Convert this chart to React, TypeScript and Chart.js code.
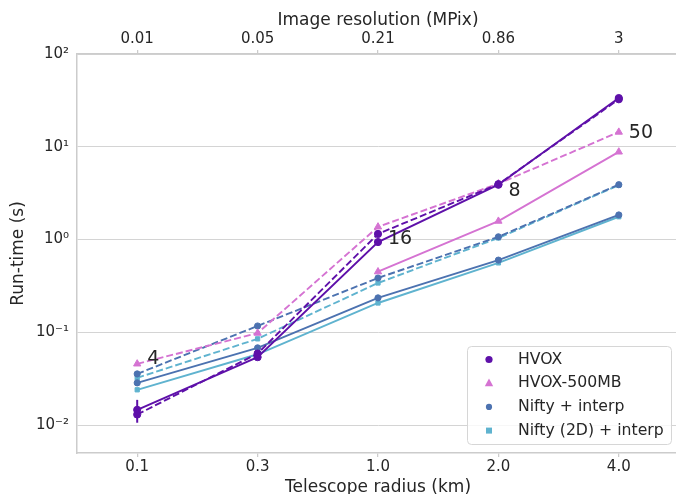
import React, { useEffect, useRef } from 'react';
import { Chart, registerables } from 'chart.js';

Chart.register(...registerables);

const FONT = "'DejaVu Sans', sans-serif";
const TEXT = '#262626';

const radiusLabels = ['0.1', '0.3', '1.0', '2.0', '4.0'];
const resolutionLabels = ['0.01', '0.05', '0.21', '0.86', '3'];
const yTickValues = [0.01, 0.1, 1, 10, 100];
const yTickLabels = ['10⁻²', '10⁻¹', '10⁰', '10¹', '10²'];

const hvoxSolid = [0.0146, 0.054, 0.94, 3.9, 33.5];
const hvoxDashed = [0.013, 0.059, 1.15, 3.95, 32.5];
const hvox500Solid = [null, null, 0.45, 1.58, 8.8];
const hvox500Dashed = [0.0457, 0.098, 1.37, 4.0, 14.4];
const niftySolid = [0.0285, 0.068, 0.235, 0.6, 1.84];
const niftyDashed = [0.0356, 0.117, 0.385, 1.07, 3.9];
const nifty2dSolid = [0.024, 0.058, 0.207, 0.56, 1.76];
const nifty2dDashed = [0.0323, 0.085, 0.34, 1.04, 3.85];

const hvoxErrLow = [0.0106, null, null, null, null];
const hvoxErrHigh = [0.0187, null, null, null, null];

const noteLabels = ['4', '16', '8', '50'];
const noteIndex = [0, 2, 3, 4];
const noteValues = [0.052, 1.0, 3.3, 14.1];

const legendNames = ['HVOX', 'HVOX-500MB', 'Nifty + interp', 'Nifty (2D) + interp'];
const seriesColors = ['#5e10a9', '#d573d2', '#4c72b0', '#5fb3cf'];
const seriesMarkers = ['circle', 'triangle', 'circle', 'rect'];
const markerSizes = [3.6, 4.2, 3.1, 3];

function drawMarker(ctx: CanvasRenderingContext2D, style: string, x: number, y: number, r: number) {
  ctx.beginPath();
  if (style === 'circle') {
    ctx.arc(x, y, r, 0, Math.PI * 2);
  } else if (style === 'triangle') {
    ctx.moveTo(x, y - r * 1.1);
    ctx.lineTo(x + r, y + r * 0.75);
    ctx.lineTo(x - r, y + r * 0.75);
    ctx.closePath();
  } else {
    ctx.rect(x - r, y - r, r * 2, r * 2);
  }
  ctx.fill();
}

const overlayPlugin = {
  id: 'overlay',
  afterDatasetsDraw(chart: any) {
    const { ctx, chartArea } = chart;
    const x = chart.scales.x;
    const y = chart.scales.y;
    ctx.save();
    // error bars
    ctx.strokeStyle = seriesColors[0];
    ctx.lineWidth = 2;
    hvoxErrLow.forEach((lo, i) => {
      const hi = hvoxErrHigh[i];
      if (lo == null || hi == null) return;
      const px = x.getPixelForValue(i);
      ctx.beginPath();
      ctx.moveTo(px, y.getPixelForValue(lo));
      ctx.lineTo(px, y.getPixelForValue(hi));
      ctx.stroke();
    });
    // annotations
    ctx.fillStyle = TEXT;
    ctx.font = `19px ${FONT}`;
    ctx.textAlign = 'left';
    ctx.textBaseline = 'middle';
    noteLabels.forEach((t, k) => {
      ctx.fillText(t, x.getPixelForValue(noteIndex[k]) + 10, y.getPixelForValue(noteValues[k]));
    });
    // legend
    const w = 204;
    const h = 98;
    const bx = chartArea.right - 8 - w;
    const by = chartArea.bottom - 9 - h;
    ctx.beginPath();
    (ctx as any).roundRect(bx + 0.5, by + 0.5, w, h, 4);
    ctx.fillStyle = 'rgba(255,255,255,0.8)';
    ctx.fill();
    ctx.strokeStyle = '#d6d6d6';
    ctx.lineWidth = 1;
    ctx.stroke();
    ctx.font = `15.7px ${FONT}`;
    legendNames.forEach((name, i) => {
      const cy = by + 13.5 + i * 23.7;
      ctx.fillStyle = seriesColors[i];
      drawMarker(ctx, seriesMarkers[i], bx + 22, cy, markerSizes[i]);
      ctx.fillStyle = TEXT;
      ctx.fillText(name, bx + 51, cy);
    });
    ctx.restore();
  },
};

function makeSet(label: string, data: (number | null)[], idx: number, dashed: boolean) {
  return {
    label,
    data,
    borderColor: seriesColors[idx],
    backgroundColor: seriesColors[idx],
    pointBackgroundColor: seriesColors[idx],
    pointBorderColor: seriesColors[idx],
    pointStyle: seriesMarkers[idx],
    pointRadius: markerSizes[idx],
    pointBorderWidth: 1,
    borderWidth: 1.9,
    borderDash: dashed ? [7, 3] : [],
    tension: 0,
    fill: false,
    spanGaps: false,
  };
}

export default function App() {
  const canvasRef = useRef<HTMLCanvasElement | null>(null);

  useEffect(() => {
    document.body.style.margin = '0';
    const canvas = canvasRef.current;
    if (!canvas) return;
    const tickFont = { family: FONT, size: 15 };
    const titleFont = { family: FONT, size: 17, lineHeight: 1 };
    const chart = new Chart(canvas, {
      type: 'line',
      data: {
        labels: radiusLabels,
        datasets: [
          makeSet('HVOX', hvoxSolid, 0, false),
          makeSet('HVOX dashed', hvoxDashed, 0, true),
          makeSet('HVOX-500MB', hvox500Solid, 1, false),
          makeSet('HVOX-500MB dashed', hvox500Dashed, 1, true),
          makeSet('Nifty + interp', niftySolid, 2, false),
          makeSet('Nifty + interp dashed', niftyDashed, 2, true),
          makeSet('Nifty (2D) + interp', nifty2dSolid, 3, false),
          makeSet('Nifty (2D) + interp dashed', nifty2dDashed, 3, true),
        ] as any,
      },
      options: {
        responsive: false,
        animation: false,
        layout: { padding: { left: 0, right: 11, top: 0, bottom: 0 } },
        plugins: {
          legend: { display: false },
          tooltip: { enabled: false },
        },
        scales: {
          x: {
            type: 'category',
            position: 'bottom',
            offset: true,
            grid: { display: true, drawOnChartArea: false, drawTicks: true, tickLength: 4, color: '#cccccc', lineWidth: 1.25 },
            border: { display: true, color: '#cccccc', width: 1.5 },
            ticks: { color: TEXT, font: tickFont, padding: 1, maxRotation: 0, autoSkip: false },
            title: { display: true, text: 'Telescope radius (km)', color: TEXT, font: titleFont, padding: { top: 0, bottom: -2 } },
            afterFit: (s: any) => { s.height = 41; },
          },
          x2: {
            type: 'category',
            position: 'top',
            labels: resolutionLabels,
            offset: true,
            display: true,
            grid: { display: true, drawOnChartArea: false, drawTicks: true, tickLength: 4, color: '#cccccc', lineWidth: 1.25 },
            border: { display: true, color: '#cccccc', width: 1.5 },
            ticks: { color: TEXT, font: tickFont, padding: 2, maxRotation: 0, autoSkip: false },
            title: { display: true, text: 'Image resolution (MPix)', color: TEXT, font: titleFont, padding: { top: 12, bottom: 0 } },
            afterFit: (s: any) => { s.height = 54; },
          },
          y: {
            type: 'logarithmic',
            min: 0.005,
            max: 100,
            grid: { color: '#d4d4d4', lineWidth: 1, drawTicks: false },
            border: { display: true, color: '#cccccc', width: 1.5 },
            ticks: {
              color: TEXT,
              font: tickFont,
              padding: 8,
              callback: (v: any) => {
                const i = yTickValues.findIndex((t) => Math.abs(Math.log10(t) - Math.log10(Number(v))) < 1e-6);
                return i >= 0 ? yTickLabels[i] : '';
              },
            },
            afterBuildTicks: (s: any) => {
              s.ticks = yTickValues.map((v) => ({ value: v }));
            },
            title: { display: true, text: 'Run-time (s)', color: TEXT, font: titleFont, padding: { top: 10.5, bottom: 0 } },
            afterFit: (s: any) => { s.width = 77; },
          },
        },
      } as any,
      plugins: [overlayPlugin],
    });
    return () => chart.destroy();
  }, []);

  return (
    <div style={{ width: 676, height: 494, overflow: 'hidden', position: 'relative' }}>
      <canvas ref={canvasRef} width={690} height={494} style={{ display: 'block' }} />
    </div>
  );
}
